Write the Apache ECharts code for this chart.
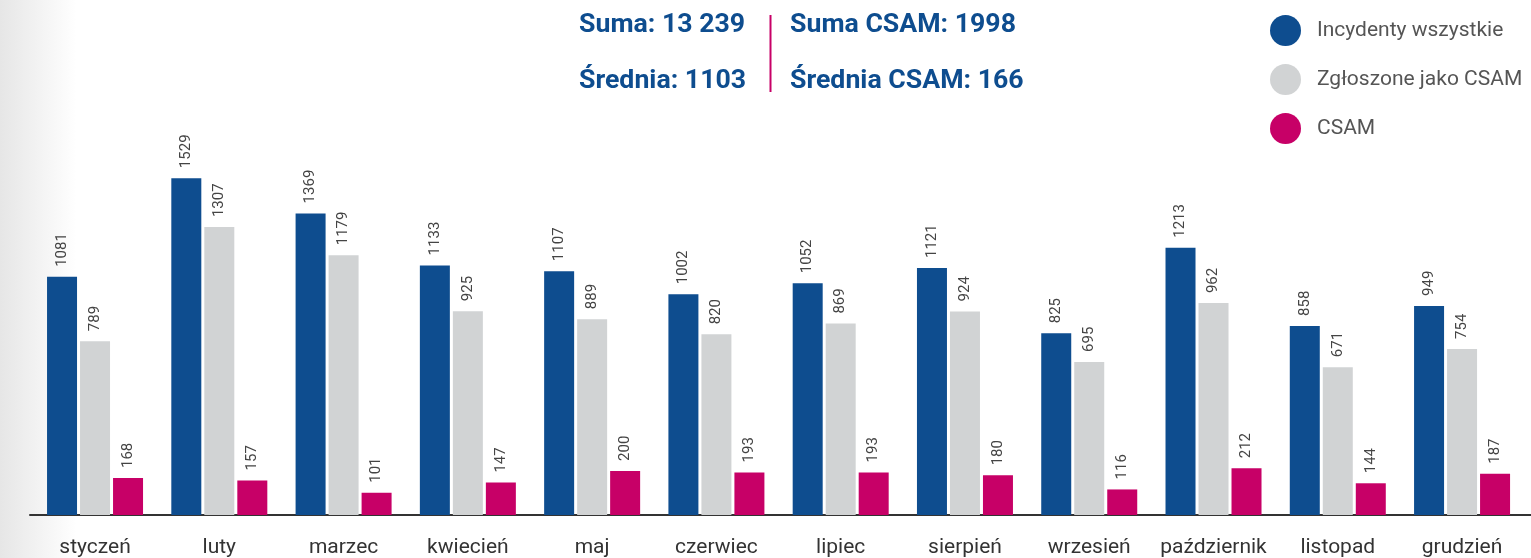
<!DOCTYPE html>
<html>
<head>
<meta charset="utf-8">
<script src="https://cdn.jsdelivr.net/npm/echarts@6/dist/echarts.min.js"></script>
<style>html,body{margin:0;padding:0;background:#fff}#c{width:1531px;height:558px}</style>
</head>
<body>
<div id="c"></div>
<script>
const categories = ['styczeń','luty','marzec','kwiecień','maj','czerwiec','lipiec','sierpień','wrzesień','październik','listopad','grudzień'];
const seriesNames = ['Incydenty wszystkie','Zgłoszone jako CSAM','CSAM'];
const incydenty = [1081,1529,1369,1133,1107,1002,1052,1121,825,1213,858,949];
const zgloszone = [789,1307,1179,925,889,820,869,924,695,962,671,754];
const csam = [168,157,101,147,200,193,193,180,116,212,144,187];
const summaryLeft = ['Suma: 13 239','Średnia: 1103'];
const summaryRight = ['Suma CSAM: 1998','Średnia CSAM: 166'];
const colors = ['#0e4d8f','#d1d3d4','#c70067'];

const chart = echarts.init(document.getElementById('c'));
const font = 'Roboto';
function bar(name, data, color){
  return {
    name, type:'bar', data, barWidth:30, barGap:'10%',
    itemStyle:{color},
    label:{show:true, position:'top', rotate:90, align:'left', verticalAlign:'middle',
      distance:10, fontFamily:font, fontSize:15, color:'#444'}
  };
}
chart.setOption({
  backgroundColor:{type:'linear',x:0,y:0,x2:1,y2:0,colorStops:[
    {offset:0,color:'#e6e6e6'},{offset:0.05,color:'#ffffff'},{offset:1,color:'#ffffff'}]},
  color:colors,
  animation:false,
  legend:{orient:'vertical', left:1265, top:10, itemWidth:31, itemHeight:31, itemGap:18,
    icon:'circle', data:seriesNames,
    textStyle:{fontFamily:font, fontSize:21, color:'#555', padding:[0,0,0,11]}},
  grid:[
    {left:32.9, right:6.8, top:74.4, bottom:43},
    {left:30, right:0, top:74.4, bottom:43}
  ],
  xAxis:[
    {type:'category', data:categories, gridIndex:0,
      axisLine:{show:false}, axisTick:{show:false},
      axisLabel:{interval:0, fontFamily:font, fontSize:21, color:'#333', margin:22}},
    {type:'category', data:[''], gridIndex:1,
      axisLine:{show:true, lineStyle:{color:'#333', width:2}}, axisTick:{show:false}, axisLabel:{show:false}}
  ],
  yAxis:[
    {type:'value', min:0, max:2000, gridIndex:0, show:false, splitLine:{show:false}},
    {type:'value', min:0, max:2000, gridIndex:1, show:false, splitLine:{show:false}}
  ],
  graphic:[
    {type:'text', left:579, top:12, style:{text:summaryLeft[0], fontFamily:font, fontWeight:'bold', fontSize:26.7, fill:'#0e4d8f'}},
    {type:'text', left:579, top:68, style:{text:summaryLeft[1], fontFamily:font, fontWeight:'bold', fontSize:26.7, fill:'#0e4d8f'}},
    {type:'text', left:790, top:12, style:{text:summaryRight[0], fontFamily:font, fontWeight:'bold', fontSize:26.7, fill:'#0e4d8f'}},
    {type:'text', left:790, top:68, style:{text:summaryRight[1], fontFamily:font, fontWeight:'bold', fontSize:26.7, fill:'#0e4d8f'}},
    {type:'rect', left:769.5, top:15, shape:{width:2, height:77}, style:{fill:'#c70067'}}
  ],
  series:[
    bar(seriesNames[0], incydenty, colors[0]),
    bar(seriesNames[1], zgloszone, colors[1]),
    bar(seriesNames[2], csam, colors[2])
  ]
});
</script>
</body>
</html>
